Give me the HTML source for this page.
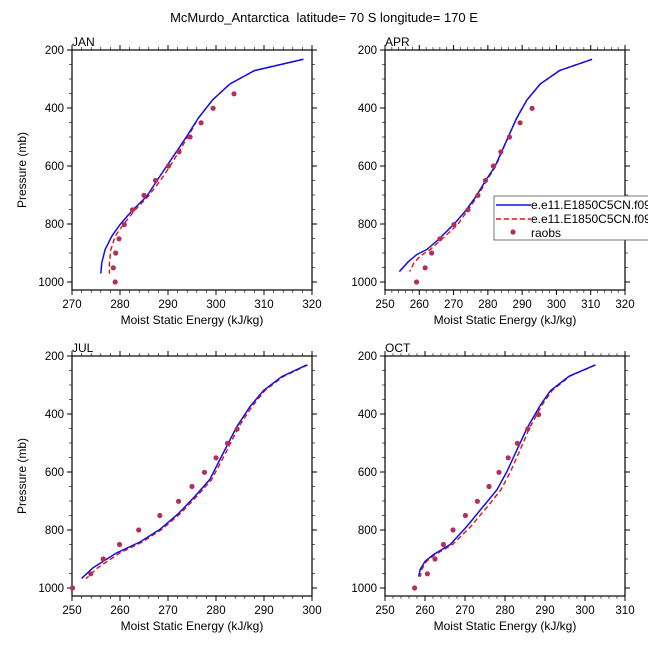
<!DOCTYPE html>
<html><head><meta charset="utf-8"><style>
body{margin:0;background:#fff}
svg{display:block;font-family:"Liberation Sans",sans-serif}
</style></head><body>
<svg id="c" width="648" height="648" viewBox="0 0 648 648" xmlns="http://www.w3.org/2000/svg">
<text x="324" y="22" text-anchor="middle" font-size="13" style="white-space:pre">McMurdo_Antarctica  latitude= 70 S longitude= 170 E</text>
</svg>
<script>
const janBlueP=[232,271,317,372,435,498,601,653,704,756,802,842,888,934,971];
const janBlueE=[318.2,308,302.9,299.3,296.3,293.9,289.7,287.6,285.6,282.4,280,278.3,276.9,276.2,276];
const janRedP=[232,271,317,372,435,498,601,653,704,756,802,842,888,934,971];
const janRedE=[318.2,308,302.9,299.3,296.3,294.2,290.4,288.3,285.9,282.9,280.7,279,278.1,277.8,277.8];
const janObsP=[351,401,451,500,551,600,650,701,751,802,851,900,951,1000];
const janObsE=[303.75,299.4,296.9,294.6,292.3,290.1,287.4,285,282.6,280.9,279.8,279.1,278.6,279];

const aprBlueP=[232,271,317,372,435,498,601,653,704,756,802,859,888,905,930,964];
const aprBlueE=[310.4,300.9,295.3,291.4,288.4,286,282.1,279.2,276.6,273.4,270,265.1,262.2,259.3,256.8,254.2];
const aprRedP=[232,271,317,372,435,498,601,653,704,756,802,850,888,910,935,964];
const aprRedE=[310.4,300.9,295.3,291.4,288.4,286,282.3,279.5,277,273.9,271.2,266.8,263.2,260.3,258.4,257.2];
const aprObsP=[401,451,500,551,600,650,701,751,802,851,900,951,1000];
const aprObsE=[292.9,289.4,286.3,283.8,281.6,279.3,277.1,274.2,270.1,266,263.6,261.7,259.2];

const julBlueP=[231,271,319,374,445,535,626,684,743,798,841,879,930,967];
const julBlueE=[298.9,293.7,289.9,287.1,284.3,281.5,278.7,275.6,272.2,268.3,264.2,259.3,254.4,252];
const julRedP=[231,271,319,374,445,535,626,684,743,798,841,879,930,968];
const julRedE=[299.1,294,290.2,287.5,284.7,282,279.1,276,272.6,268.7,264.7,260,255.4,252.9];
const julObsP=[452,501,551,601,650,701,750,800,850,900,951,1000];
const julObsE=[284.4,282.4,280,277.6,275,272.2,268.3,263.9,259.9,256.5,253.9,250.1];

const octBlueP=[231,269,319,368,449,523,598,661,718,787,850,885,908,936,961];
const octBlueE=[302.6,296.1,291.4,288.9,285.5,283,280.5,278,274.6,270.5,266.3,262.1,260,258.8,258.4];
const octRedP=[231,269,319,368,449,523,598,661,718,787,850,885,908,936,961];
const octRedE=[302.6,296.3,291.8,289.3,286.1,283.8,281.4,279,275.7,271.5,266.9,262.5,260.4,259.2,258.8];
const octObsP=[402,451,501,551,601,650,701,750,800,850,900,951,1000];
const octObsE=[288.4,285.7,283.1,280.8,278.5,276,273.1,270.1,267,264.6,262.5,260.6,257.4];

const panels=[
 {name:'jan',label:'JAN',x0:72,y0:50,xmin:270,xmax:320,bp:janBlueP,be:janBlueE,rp:janRedP,re:janRedE,op:janObsP,oe:janObsE,ylab:true},
 {name:'apr',label:'APR',x0:385,y0:50,xmin:250,xmax:320,bp:aprBlueP,be:aprBlueE,rp:aprRedP,re:aprRedE,op:aprObsP,oe:aprObsE,ylab:false},
 {name:'jul',label:'JUL',x0:72,y0:356,xmin:250,xmax:300,bp:julBlueP,be:julBlueE,rp:julRedP,re:julRedE,op:julObsP,oe:julObsE,ylab:true},
 {name:'oct',label:'OCT',x0:385,y0:356,xmin:250,xmax:310,bp:octBlueP,be:octBlueE,rp:octRedP,re:octRedE,op:octObsP,oe:octObsE,ylab:false}
];
const svg=document.getElementById('c');
const NS='http://www.w3.org/2000/svg';
function mk(t,a,parent){const e=document.createElementNS(NS,t);for(const k in a)e.setAttribute(k,a[k]);(parent||svg).appendChild(e);return e;}
const W=240,H=240;
panels.forEach(p=>{
 const g=mk('g',{});
 
 
 const sx=v=>p.x0+(v-p.xmin)/(p.xmax-p.xmin)*W;
 const sy=v=>p.y0+(v-200)/200*58;
 for(let v=p.xmin;v<=p.xmax;v+=2){
  const maj=(v%10===0);const L=maj?5:3;const x=sx(v);
  mk('line',{x1:x,x2:x,y1:p.y0+H,y2:p.y0+H+L,stroke:'#000','stroke-width':maj?1:0.6},g);
  mk('line',{x1:x,x2:x,y1:p.y0,y2:p.y0-L,stroke:'#000','stroke-width':maj?1:0.6},g);
  if(maj){const t=mk('text',{x:x,y:p.y0+H+18,'text-anchor':'middle','font-size':11.5},g);t.textContent=v;
   
   }
 }
 for(let v=200;v<=1000;v+=50){
  const maj=(v%200===0);const L=maj?5:3;const y=sy(v);
  mk('line',{x1:p.x0,x2:p.x0-L,y1:y,y2:y,stroke:'#000','stroke-width':maj?1:0.6},g);
  mk('line',{x1:p.x0+W,x2:p.x0+W+L,y1:y,y2:y,stroke:'#000','stroke-width':maj?1:0.6},g);
  if(maj){const t=mk('text',{x:p.x0-8,y:y+4,'text-anchor':'end','font-size':11.5},g);t.textContent=v;
   
   }
 }
 const fr=mk('rect',{x:p.x0,y:p.y0,width:W,height:H,fill:'none',stroke:'#000','stroke-width':1.2},g);
 
 
 const lt=mk('text',{x:p.x0,y:p.y0-4,'font-size':12},g);lt.textContent=p.label;
 
 
 const xl=mk('text',{x:p.x0+W/2,y:p.y0+H+34,'text-anchor':'middle','font-size':12},g);xl.textContent='Moist Static Energy (kJ/kg)';
 
 
 if(p.ylab){const yl=mk('text',{x:0,y:0,'text-anchor':'middle','font-size':12,transform:`translate(${p.x0-46},${p.y0+H/2}) rotate(-90)`},g);yl.textContent='Pressure (mb)';
  
  }
 const rl=mk('polyline',{points:p.rp.map((v,i)=>sx(p.re[i])+','+sy(v)).join(' '),fill:'none',stroke:'#e8120c','stroke-width':1.4,'stroke-dasharray':'5,3'},g);
 
 
 const bl=mk('polyline',{points:p.bp.map((v,i)=>sx(p.be[i])+','+sy(v)).join(' '),fill:'none',stroke:'#1010e8','stroke-width':1.5},g);
 
 
 p.op.forEach((v,i)=>{const c=mk('circle',{cx:sx(p.oe[i]),cy:sy(v),r:2.6,fill:'#b03060'},g);
  
  });
});
const lg=mk('g',{});


mk('rect',{x:494,y:196,width:160,height:44,fill:'#fff',stroke:'#555','stroke-width':0.8},lg);
mk('line',{x1:496,x2:531,y1:205,y2:205,stroke:'#1010e8','stroke-width':1.5},lg);
mk('line',{x1:496,x2:531,y1:219,y2:219,stroke:'#e8120c','stroke-width':1.4,'stroke-dasharray':'5,3'},lg);
mk('circle',{cx:513,cy:232,r:2.6,fill:'#b03060'},lg);
[['e.e11.E1850C5CN.f09',209],['e.e11.E1850C5CN.f09',223],['raobs',237]].forEach(([t,y])=>{
 const e=mk('text',{x:531,y:y,'font-size':12},lg);e.textContent=t;
 
 
});
</script>
</body></html>
